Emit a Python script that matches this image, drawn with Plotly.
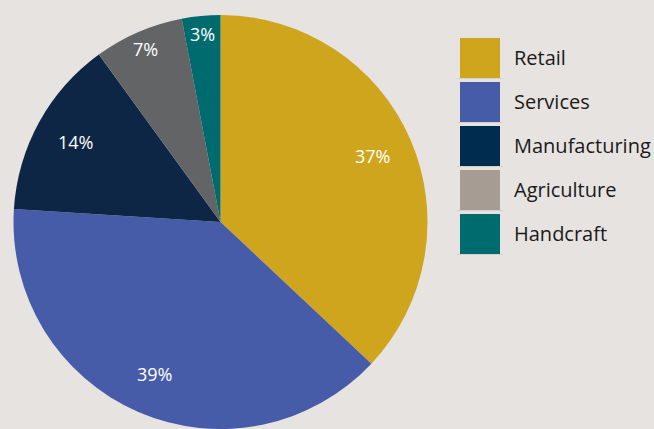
import math
import plotly.graph_objects as go

categories = ["Retail", "Services", "Manufacturing", "Agriculture", "Handcraft"]
values = [37, 39, 14, 7, 3]
slice_colors = ["#cfa51e", "#475ca8", "#0e2646", "#636466", "#006b6e"]
legend_colors = ["#cfa51e", "#475ca8", "#002c50", "#a79c94", "#006b6e"]

W, H = 654, 429
bg = "#e7e3e0"
font = "Open Sans"

cx, R = 220.5, 207
cy = H - R  # pixel y (from top) of the pie centre
fig = go.Figure(go.Pie(
    labels=categories, values=values, sort=False, direction="clockwise", rotation=0,
    marker=dict(colors=slice_colors, line=dict(width=0)),
    textinfo="none",
    domain=dict(x=[(cx - R) / W, (cx + R) / W], y=[0, 2 * R / H]),
    showlegend=False, hoverinfo="label+percent",
))

shapes, annotations = [], []
total = sum(values)
cum = 0
for v in values:
    mid = (cum + v / 2) / total * 2 * math.pi
    cum += v
    frac = 0.8 if v / total >= 0.1 else 0.91
    px = cx + frac * R * math.sin(mid)
    py = cy - frac * R * math.cos(mid)
    annotations.append(dict(xref="paper", yref="paper", x=px / W, y=1 - py / H,
                            xanchor="center", yanchor="middle", showarrow=False,
                            text=f"{round(v / total * 100)}%",
                            font=dict(family=font, size=18, color="white")))

for i, (name, col) in enumerate(zip(categories, legend_colors)):
    top = 38 + i * 44
    shapes.append(dict(type="rect", xref="paper", yref="paper",
                       x0=460 / W, x1=500 / W, y0=1 - (top + 40) / H, y1=1 - top / H,
                       fillcolor=col, line=dict(width=0), layer="above"))
    shapes.append(dict(type="line", xref="paper", yref="paper",
                       x0=457 / W, x1=503 / W, y0=1 - (top + 40.5) / H, y1=1 - (top + 40.5) / H,
                       line=dict(color="#d5d0cc", width=1)))
    annotations.append(dict(xref="paper", yref="paper", x=512 / W, y=1 - (top + 19) / H,
                            xanchor="left", yanchor="middle", text=name, showarrow=False,
                            font=dict(family=font, size=20, color="#1a1a1a")))

fig.update_layout(width=W, height=H, margin=dict(l=0, r=0, t=0, b=0),
                  paper_bgcolor=bg, plot_bgcolor=bg, shapes=shapes, annotations=annotations)
fig.write_html("out.html", config={"displayModeBar": False},
               post_script="document.body.style.margin='0';document.body.style.overflow='hidden';"
                           "document.body.style.background='" + bg + "';")
